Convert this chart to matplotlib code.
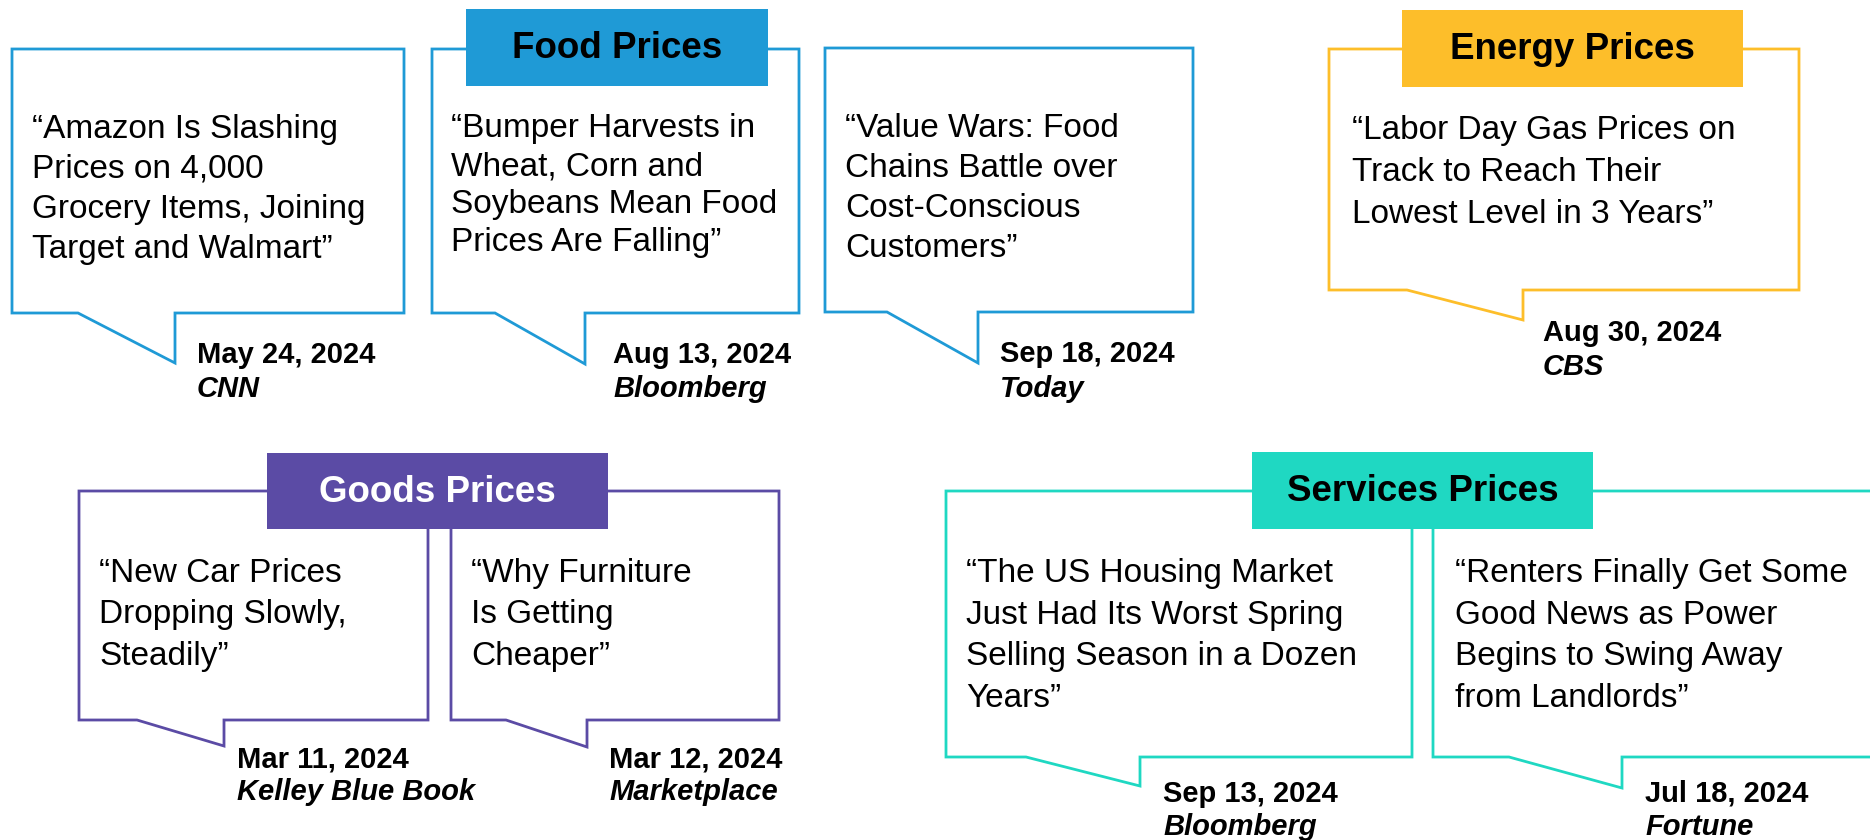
import matplotlib
matplotlib.use("Agg")
import matplotlib.pyplot as plt
from matplotlib.patches import Polygon, Rectangle

plt.rcParams['font.family'] = ['Liberation Sans', 'DejaVu Sans']

# ---------------- data ----------------
categories = ["Food Prices", "Energy Prices", "Goods Prices", "Services Prices"]
category_colors = ["#1F9AD6", "#FDBE2A", "#5B4BA5", "#1FD8C2"]
category_text_colors = ["black", "black", "white", "black"]

headlines = [
    ["\u201cAmazon Is Slashing", "Prices on 4,000", "Grocery Items, Joining", "Target and Walmart\u201d"],
    ["\u201cBumper Harvests in", "Wheat, Corn and", "Soybeans Mean Food", "Prices Are Falling\u201d"],
    ["\u201cValue Wars: Food", "Chains Battle over", "Cost-Conscious", "Customers\u201d"],
    ["\u201cLabor Day Gas Prices on", "Track to Reach Their", "Lowest Level in 3 Years\u201d"],
    ["\u201cNew Car Prices", "Dropping Slowly,", "Steadily\u201d"],
    ["\u201cWhy Furniture", "Is Getting", "Cheaper\u201d"],
    ["\u201cThe US Housing Market", "Just Had Its Worst Spring", "Selling Season in a Dozen", "Years\u201d"],
    ["\u201cRenters Finally Get Some", "Good News as Power", "Begins to Swing Away", "from Landlords\u201d"],
]
dates = ["May 24, 2024", "Aug 13, 2024", "Sep 18, 2024", "Aug 30, 2024",
         "Mar 11, 2024", "Mar 12, 2024", "Sep 13, 2024", "Jul 18, 2024"]
sources = ["CNN", "Bloomberg", "Today", "CBS",
           "Kelley Blue Book", "Marketplace", "Bloomberg", "Fortune"]
headline_category = [0, 0, 0, 1, 2, 2, 3, 3]

# ---------------- layout (pixels, full figure) ----------------
# left, top, right, bottom, tail_start_x, tail_tip_x, tail_tip_y
boxes = [
    (12, 49, 404, 313, 78, 175, 363),
    (432, 49, 799, 313, 495, 585, 364),
    (825, 48, 1193, 312, 887, 978, 363),
    (1329, 49, 1799, 290, 1407, 1523, 320),
    (79, 491, 428, 720, 137, 224, 746),
    (451, 491, 779, 720, 506, 587, 747),
    (946, 491, 1412, 757, 1026, 1140, 786),
    (1433, 491, 1900, 757, 1509, 1622, 788),
]
# text x, first baseline, line spacing
text_pos = [
    (32, 138, 40), (451, 137, 38), (845, 137, 40), (1352, 139, 42),
    (99, 582, 41.5), (471, 582, 41.5), (966, 582, 41.7), (1455, 582, 41.7),
]
# date x, date baseline, source baseline
date_pos = [
    (197, 363, 397), (613, 363, 397), (1000, 362, 397), (1543, 341, 375),
    (237, 767, 800), (609, 767, 800), (1163, 802, 835), (1645, 802, 835),
]
# label rectangles: left, top, right, bottom
label_rects = [
    (466, 9, 768, 86),
    (1402, 10, 1743, 87),
    (267, 453, 608, 529),
    (1252, 452, 1593, 529),
]

W, H = 1870, 840
fig = plt.figure(figsize=(W / 100, H / 100), dpi=100)
ax = fig.add_axes([0, 0, 1, 1])
ax.set_xlim(0, W)
ax.set_ylim(H, 0)
ax.axis("off")

for i, (l, t, r, b, ts, tx, ty) in enumerate(boxes):
    col = category_colors[headline_category[i]]
    pts = [(tx, b), (r, b), (r, t), (l, t), (l, b), (ts, b), (tx, ty)]
    ax.add_patch(Polygon(pts, closed=True, facecolor="white", edgecolor=col,
                         linewidth=2.0, joinstyle="miter", zorder=1))
    x0, y0, dy = text_pos[i]
    for k, line in enumerate(headlines[i]):
        ax.text(x0, y0 + k * dy, line, fontsize=24, va="baseline", ha="left",
                color="black", zorder=3)
    dx, dyb, syb = date_pos[i]
    ax.text(dx, dyb, dates[i], fontsize=21, fontweight="bold", va="baseline",
            ha="left", color="black", zorder=3)
    ax.text(dx, syb, sources[i], fontsize=21, fontweight="bold", style="italic",
            va="baseline", ha="left", color="black", zorder=3)

for j, (l, t, r, b) in enumerate(label_rects):
    ax.add_patch(Rectangle((l, t), r - l, b - t, facecolor=category_colors[j],
                           edgecolor="none", zorder=4))
    ax.text((l + r) / 2, (t + b) / 2 + 1, categories[j], fontsize=26.5,
            fontweight="bold", ha="center", va="center",
            color=category_text_colors[j], zorder=5)

fig.savefig("out.png", dpi=100, facecolor="white")
